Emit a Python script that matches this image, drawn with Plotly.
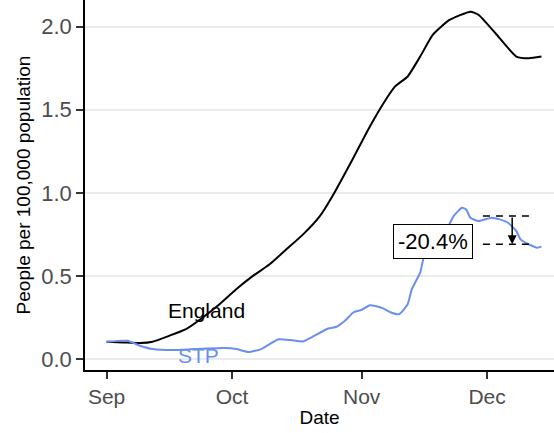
import plotly.graph_objects as go

# England (black line)
eng_dates = ["2020-09-01", "2020-09-05", "2020-09-09", "2020-09-12", "2020-09-16", "2020-09-20",
             "2020-09-24", "2020-09-28", "2020-10-02", "2020-10-06", "2020-10-10", "2020-10-14",
             "2020-10-18", "2020-10-22", "2020-10-25", "2020-10-30", "2020-11-03", "2020-11-06",
             "2020-11-09", "2020-11-12", "2020-11-15", "2020-11-18", "2020-11-22", "2020-11-27",
             "2020-11-29", "2020-12-03", "2020-12-08", "2020-12-11", "2020-12-14"]
eng_vals = [0.104, 0.10, 0.096, 0.104, 0.14, 0.18,
            0.25, 0.33, 0.42, 0.50, 0.57, 0.66,
            0.75, 0.86, 0.98, 1.21, 1.40, 1.53,
            1.64, 1.70, 1.82, 1.95, 2.04, 2.09,
            2.07, 1.96, 1.82, 1.81, 1.82]

# STP (blue line)
stp_dates = ["2020-09-01", "2020-09-06", "2020-09-09", "2020-09-12", "2020-09-17", "2020-09-22",
             "2020-09-29", "2020-10-02", "2020-10-05", "2020-10-08", "2020-10-10", "2020-10-12",
             "2020-10-15", "2020-10-18", "2020-10-20", "2020-10-24", "2020-10-26", "2020-10-28",
             "2020-10-30", "2020-11-01", "2020-11-03", "2020-11-06", "2020-11-08", "2020-11-10",
             "2020-11-12", "2020-11-13", "2020-11-15", "2020-11-16", "2020-11-19", "2020-11-21",
             "2020-11-23", "2020-11-25", "2020-11-26", "2020-11-27", "2020-11-29", "2020-12-02",
             "2020-12-04", "2020-12-06", "2020-12-08", "2020-12-09", "2020-12-11", "2020-12-13",
             "2020-12-14"]
stp_vals = [0.104, 0.11, 0.08, 0.06, 0.054, 0.06,
            0.066, 0.06, 0.042, 0.06, 0.09, 0.118,
            0.114, 0.106, 0.13, 0.184, 0.194, 0.23,
            0.28, 0.296, 0.324, 0.306, 0.28, 0.27,
            0.33, 0.42, 0.52, 0.62, 0.68, 0.76,
            0.86, 0.91, 0.90, 0.85, 0.83, 0.85,
            0.84, 0.82, 0.77, 0.72, 0.69, 0.67,
            0.676]

# change marker
ref_window = ["2020-11-30", "2020-12-12"]
ref_high = 0.86
ref_low = 0.69
arrow_date = "2020-12-07"
change_label = "-20.4%"

BLUE = "#6A8FEF"
FONT = "Liberation Sans, Arial, sans-serif"

fig = go.Figure()

fig.add_trace(go.Scatter(x=eng_dates, y=eng_vals, mode="lines",
                         line=dict(color="black", width=2, shape="spline", smoothing=0.5)))
fig.add_trace(go.Scatter(x=stp_dates, y=stp_vals, mode="lines",
                         line=dict(color=BLUE, width=2, shape="spline", smoothing=0.5)))

# dashed reference levels
for lvl in [ref_high, ref_low]:
    fig.add_trace(go.Scatter(x=ref_window, y=[lvl, lvl], mode="lines",
                             line=dict(color="black", width=1.5, dash="7px,6px")))

fig.add_annotation(x=arrow_date, y=ref_low, ax=arrow_date, ay=ref_high,
                   xref="x", yref="y", axref="x", ayref="y",
                   showarrow=True, arrowhead=2, arrowsize=1.2, arrowwidth=1.5,
                   arrowcolor="black", text="")

fig.add_annotation(x="2020-11-18", y=0.705, text=change_label, showarrow=False,
                   font=dict(size=22, color="black", family=FONT),
                   bgcolor="white", bordercolor="black", borderwidth=1, borderpad=4)

fig.add_annotation(x="2020-09-25", y=0.29, text="England", showarrow=False,
                   font=dict(size=21, color="black", family=FONT))
fig.add_annotation(x="2020-09-23", y=0.024, text="STP", showarrow=False,
                   font=dict(size=21, color=BLUE, family=FONT))

fig.update_layout(
    width=554, height=433,
    margin=dict(l=85, r=0, t=0, b=63),
    plot_bgcolor="white", paper_bgcolor="white",
    showlegend=False,
    font=dict(family=FONT),
)
fig.update_xaxes(
    type="date", range=["2020-08-26 20:00", "2020-12-17"],
    tick0="2020-09-01", dtick="M1", tickformat="%b",
    showgrid=False, zeroline=False, automargin=False,
    showline=True, linecolor="black", linewidth=1.5,
    ticks="outside", ticklen=7, tickcolor="#333333", tickwidth=1.5,
    tickfont=dict(size=21, color="#4D4D4D"),
    title=dict(text="Date", font=dict(size=19, color="black"), standoff=4),
)
fig.update_yaxes(
    range=[-0.066, 2.16], dtick=0.5, tick0=0, tickformat=".1f",
    showgrid=True, gridcolor="#EBEBEB", gridwidth=1.5, zeroline=False, automargin=False,
    showline=True, linecolor="black", linewidth=1.5,
    ticks="outside", ticklen=7, tickcolor="#333333", tickwidth=1.5,
    tickfont=dict(size=22, color="#4D4D4D"),
    title=dict(text="People per 100,000 population", font=dict(size=19, color="black"), standoff=6),
)

# drop the default 8px body margin so the figure sits at the window corner
fig.write_html("out.html", config={"displayModeBar": False},
               post_script="document.body.style.margin='0px';")
